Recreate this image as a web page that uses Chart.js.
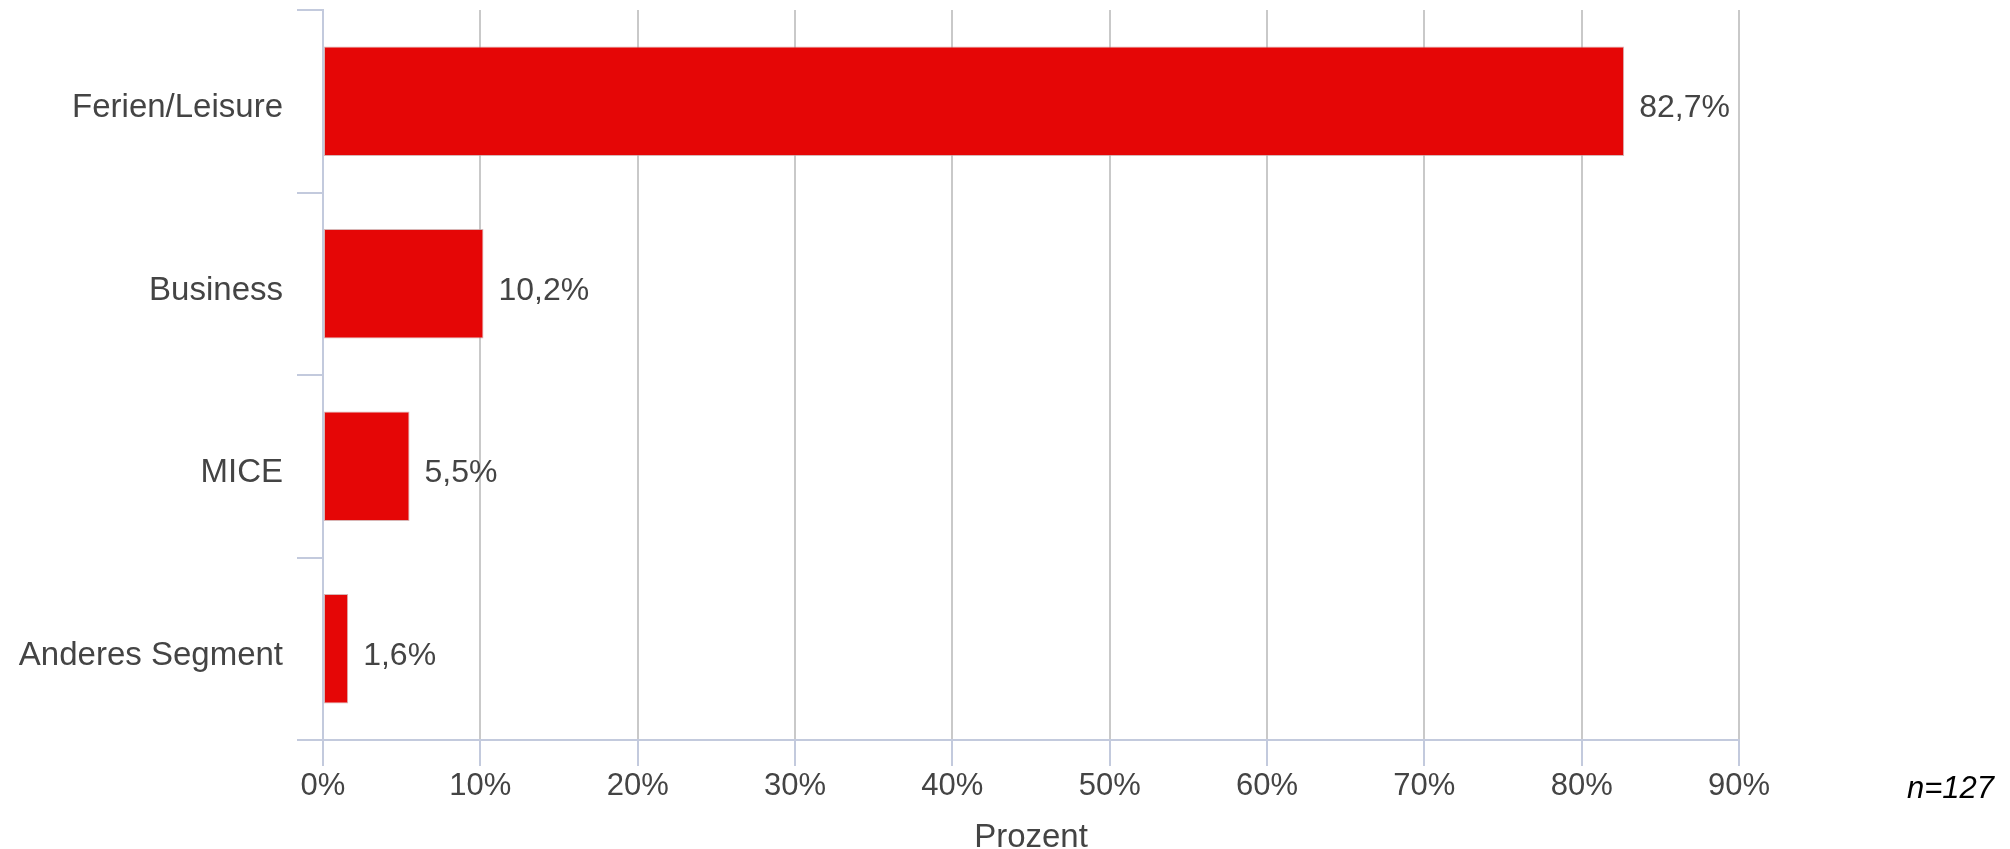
<!DOCTYPE html>
<html lang="de">
<head>
<meta charset="utf-8">
<title>Segmente</title>
<script src="https://cdn.jsdelivr.net/npm/chart.js@4/dist/chart.umd.min.js"></script>
<style>
  html, body { margin: 0; padding: 0; background: #ffffff; }
  #wrap { position: relative; width: 2010px; height: 849px; }
  canvas { display: block; }
</style>
</head>
<body>
<div id="wrap"><canvas id="chart" width="2010" height="849"></canvas></div>
<script>
// Segment shares (percent of respondents)
const categories = ['Ferien/Leisure', 'Business', 'MICE', 'Anderes Segment'];
const shares = [82.7, 10.2, 5.5, 1.6];
const axisTitle = 'Prozent';
const sampleNote = 'n=127';

const FONT = '"Liberation Sans", Arial, Helvetica, sans-serif';
const TEXT = '#444444';
const AXIS = '#c3cadd';
const GRID = '#c9c9c9';

const fmt = v => v.toFixed(1).replace('.', ',') + '%';

// Value labels to the right of each bar
const valueLabels = {
  id: 'valueLabels',
  afterDatasetsDraw(chart) {
    const ctx = chart.ctx;
    const meta = chart.getDatasetMeta(0);
    ctx.save();
    ctx.font = '32px ' + FONT;
    ctx.fillStyle = TEXT;
    ctx.textAlign = 'left';
    ctx.textBaseline = 'middle';
    meta.data.forEach((bar, i) => {
      ctx.fillText(fmt(chart.data.datasets[0].data[i]), bar.x + 15, bar.y + 7);
    });
    ctx.restore();
  }
};

// Sample size note at the lower right
const noteText = {
  id: 'noteText',
  afterDraw(chart) {
    const ctx = chart.ctx;
    ctx.save();
    ctx.font = 'italic 31px ' + FONT;
    ctx.fillStyle = '#000000';
    ctx.textAlign = 'right';
    ctx.textBaseline = 'alphabetic';
    ctx.fillText(sampleNote, 1994, 798);
    ctx.restore();
  }
};

new Chart(document.getElementById('chart'), {
  type: 'bar',
  data: {
    labels: categories,
    datasets: [{
      data: shares,
      backgroundColor: '#e50606',
      borderColor: 'rgba(200,150,150,0.7)',
      borderWidth: 1,
      borderSkipped: false,
      barPercentage: 0.6,
      categoryPercentage: 1.0
    }]
  },
  options: {
    indexAxis: 'y',
    responsive: false,
    devicePixelRatio: 1,
    animation: false,
    layout: { padding: { left: 0, top: 10, right: 271, bottom: 0 } },
    plugins: {
      legend: { display: false },
      tooltip: { enabled: false }
    },
    scales: {
      x: {
        min: 0,
        max: 90,
        ticks: {
          stepSize: 10,
          padding: 2,
          color: TEXT,
          font: { family: FONT, size: 31 },
          callback: v => v + '%'
        },
        grid: {
          color: GRID,
          lineWidth: 2,
          tickColor: AXIS,
          tickLength: 26
        },
        border: { color: AXIS, width: 2 },
        title: {
          display: true,
          text: axisTitle,
          color: TEXT,
          font: { family: FONT, size: 33, lineHeight: 0.7 },
          padding: { top: 0, bottom: 0 }
        },
        afterFit(scale) { scale.height = 109; }
      },
      y: {
        ticks: {
          padding: 14,
          labelOffset: 7,
          color: TEXT,
          font: { family: FONT, size: 33 }
        },
        grid: {
          offset: true,
          drawOnChartArea: false,
          color: AXIS,
          lineWidth: 2,
          tickLength: 26
        },
        border: { color: AXIS, width: 2 },
        afterFit(scale) {
          scale.width = 323;
          scale.paddingTop = 0;
          scale.paddingBottom = 0;
        }
      }
    }
  },
  plugins: [valueLabels, noteText]
});
</script>
</body>
</html>
